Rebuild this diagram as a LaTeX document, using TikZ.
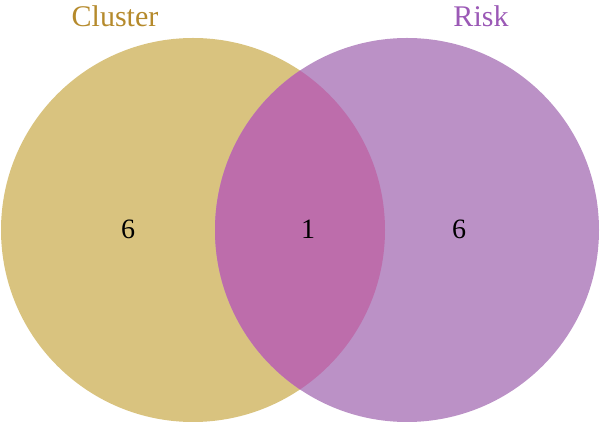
\documentclass[tikz,border=0pt]{standalone}
\usepackage{fontspec}
\setmainfont{Liberation Serif}
\definecolor{gold}{HTML}{D9C37F}
\definecolor{lilac}{HTML}{BB91C6}
\definecolor{mix}{HTML}{BD6DAB}
\definecolor{goldtext}{HTML}{B58A2C}
\definecolor{lilactext}{HTML}{9B59B6}
\begin{document}
\begin{tikzpicture}[x=1pt,y=1pt,
  num/.style={font=\fontsize{28}{32}\selectfont, text=black},
  setlabel/.style={font=\fontsize{30}{36}\selectfont}]
\useasboundingbox (0,0) rectangle (600,425);
\fill[gold] (193,195) circle (192);
\fill[lilac] (407,195) circle (192);
\begin{scope}
\clip (193,195) circle (192);
\fill[mix] (407,195) circle (192);
\end{scope}
\node[num] (a) at (128,196) {6};
\node[num] (b) at (308,196) {1};
\node[num] (c) at (459,196) {6};
\node[setlabel, text=goldtext] (l1) at (115,409) {Cluster};
\node[setlabel, text=lilactext] (l2) at (481,409) {Risk};
\end{tikzpicture}
\end{document}
